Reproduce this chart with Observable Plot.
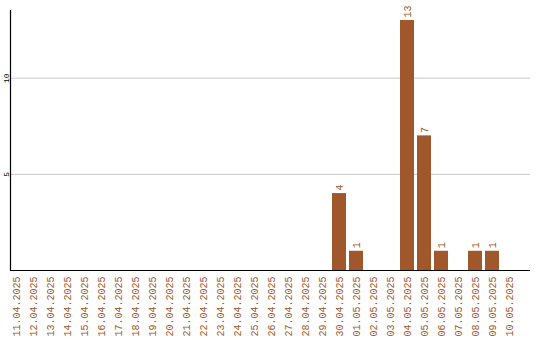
<!DOCTYPE html>
<html>
<head>
<meta charset="utf-8">
<script src="https://cdn.jsdelivr.net/npm/d3@7"></script>
<script src="https://cdn.jsdelivr.net/npm/@observablehq/plot@0.6"></script>
<style>
  html, body { margin: 0; padding: 0; background: #fff; }
</style>
</head>
<body>
<div id="chart"></div>
<script>
const dates = [
  "11.04.2025","12.04.2025","13.04.2025","14.04.2025","15.04.2025","16.04.2025",
  "17.04.2025","18.04.2025","19.04.2025","20.04.2025","21.04.2025","22.04.2025",
  "23.04.2025","24.04.2025","25.04.2025","26.04.2025","27.04.2025","28.04.2025",
  "29.04.2025","30.04.2025","01.05.2025","02.05.2025","03.05.2025","04.05.2025",
  "05.05.2025","06.05.2025","07.05.2025","08.05.2025","09.05.2025","10.05.2025"
];
const counts = [
  0,0,0,0,0,0,
  0,0,0,0,0,0,
  0,0,0,0,0,0,
  0,4,1,0,0,13,
  7,1,0,1,1,0
];
const yTicks = [5, 10];

const data = dates.map((d, i) => ({date: d, value: counts[i]}));
const color = "#a0572b";
const mono = "'Liberation Mono', 'DejaVu Sans Mono', monospace";

const chart = Plot.plot({
  width: 540,
  height: 340,
  marginLeft: 10,
  marginRight: 10,
  marginTop: 10,
  marginBottom: 70,
  style: {background: "#fff"},
  x: {domain: dates, range: [8, 518], paddingInner: 0.176, paddingOuter: 0.088, label: null},
  y: {domain: [0, 13.52], label: null},
  marks: [
    Plot.gridY({ticks: yTicks, stroke: "#c8c8c8", strokeOpacity: 1}),
    Plot.barY(data, {x: "date", y: "value", fill: color}),
    Plot.text(data.filter(d => d.value > 0), {
      x: "date", y: "value", text: d => String(d.value),
      rotate: -90, textAnchor: "start", dy: -3,
      fill: color, fontSize: 10, fontFamily: mono
    }),
    Plot.axisX({
      tickSize: 0, tickPadding: 6, tickRotate: -90,
      fill: color, fontSize: 10, fontFamily: mono, label: null
    }),
    Plot.axisY({
      ticks: yTicks, tickSize: 0, tickPadding: 2, tickRotate: -90,
      fill: "#000", fontSize: 8, fontFamily: mono, label: null
    }),
    Plot.ruleY([0], {stroke: "#000", strokeWidth: 1.2}),
    Plot.frame({anchor: "left", stroke: "#000", strokeWidth: 1.2})
  ]
});
document.getElementById("chart").appendChild(chart);
</script>
</body>
</html>
